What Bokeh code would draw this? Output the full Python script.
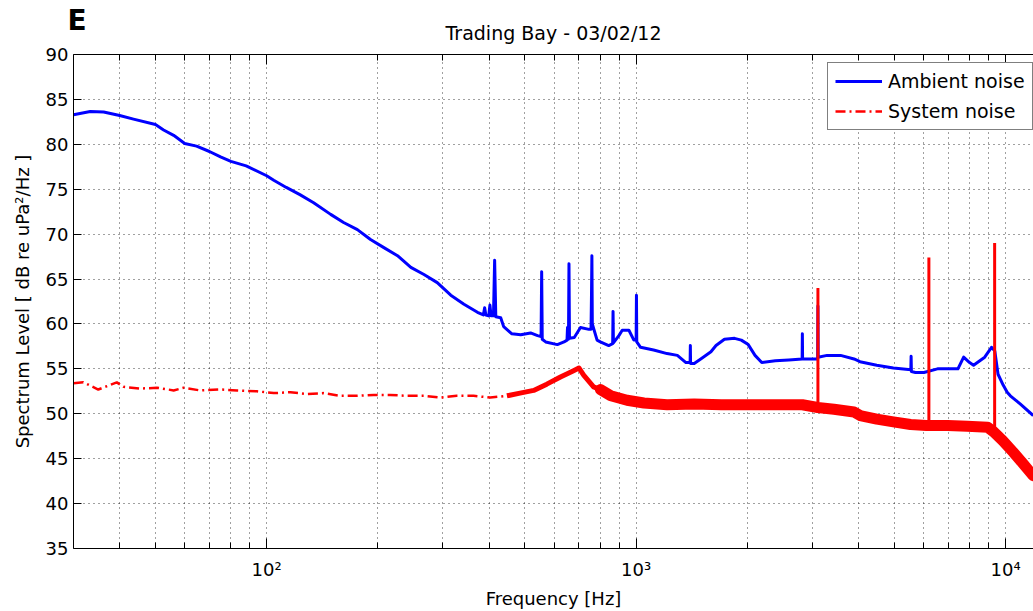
import numpy as np
from bokeh.plotting import figure
from bokeh.models import FixedTicker, LogAxis, Legend, LegendItem, Title
from bokeh.embed import file_html
from bokeh.resources import INLINE

# ---------------- data ----------------
title_text = "Trading Bay - 03/02/12"
panel_letter = "E"
x_label = "Frequency [Hz]"
y_label = "Spectrum Level [ dB re uPa\u00b2/Hz ]"
series_names = ["Ambient noise", "System noise"]

x_major_ticks = [100, 1000, 10000]
x_major_labels = ["10\u00b2", "10\u00b3", "10\u2074"]
x_minor_ticks = [40, 50, 60, 70, 80, 90,
                 200, 300, 400, 500, 600, 700, 800, 900,
                 2000, 3000, 4000, 5000, 6000, 7000, 8000, 9000]
y_ticks = [35, 40, 45, 50, 55, 60, 65, 70, 75, 80, 85, 90]

# Ambient noise (blue), spikes included
amb_freq = [30, 33.3, 36.2, 40, 43.6, 50, 52.6, 56, 60, 64.6, 70, 75, 80, 88,
            100, 104.5, 113, 123, 134, 149, 161.5, 176, 191, 207.6, 226, 245.6,
            266.5, 289.5, 315, 342, 372, 386, 389, 392, 399, 402, 405, 411, 414,
            417, 430, 438, 461, 487, 518, 541, 553, 555, 557, 569, 612, 638, 650,
            652, 654, 656, 658, 660, 680, 707, 745, 755, 757, 759, 761, 784, 800,
            843, 864, 866, 868, 898, 917, 956, 986, 1000, 1002, 1004, 1028, 1115,
            1213, 1293, 1364, 1400, 1402, 1404, 1436, 1496, 1594, 1645, 1734,
            1847, 1926, 2011, 2098, 2188, 2381, 2590, 2814, 2818, 2822, 3063,
            3100, 3105, 3110, 3286, 3576, 3888, 4036, 4480, 4970, 5540, 5550,
            5560, 5700, 6010, 6540, 6970, 7430, 7700, 7990, 8190, 8780, 9160,
            9350, 9540, 9850, 10100, 10300, 10950, 11880]
amb_level = [83.3, 83.65, 83.6, 83.2, 82.8, 82.2, 81.6, 81.0, 80.1, 79.8, 79.2,
             78.6, 78.1, 77.6, 76.5, 76.0, 75.2, 74.4, 73.5, 72.2, 71.3, 70.5,
             69.4, 68.5, 67.6, 66.3, 65.5, 64.6, 63.2, 62.2, 61.3, 61.0, 61.8,
             61.0, 60.9, 62.1, 60.9, 60.9, 67.1, 60.8, 60.7, 59.7, 58.9, 58.8,
             59.0, 58.7, 58.6, 65.8, 58.3, 58.0, 57.7, 58.0, 58.2, 59.6, 58.3,
             58.3, 66.7, 58.4, 58.5, 59.6, 59.4, 59.4, 63.0, 67.6, 60.0, 58.2,
             58.0, 57.6, 57.8, 61.4, 57.9, 58.7, 59.3, 59.3, 58.2, 58.2, 63.2,
             58.0, 57.4, 57.1, 56.7, 56.5, 55.7, 55.7, 57.6, 55.6, 55.6, 56.1,
             56.9, 57.6, 58.3, 58.4, 58.2, 57.7, 56.5, 55.7, 55.9, 56.0, 56.1,
             58.9, 56.1, 56.1, 56.1, 62.0, 56.3, 56.5, 56.5, 56.1, 55.8, 55.4,
             55.1, 54.9, 56.4, 54.7, 54.6, 54.6, 55.0, 55.0, 55.0, 56.3, 55.7,
             55.4, 56.3, 57.4, 57.0, 54.4, 53.2, 52.4, 52.0, 51.1, 49.8]

# System noise (red) (centre of the noisy band)
sys_freq = [30, 31.9, 35, 39.3, 41, 45.5, 50.5, 56, 59.6, 66, 75, 83.1, 94.1,
            104.5, 116, 128.6, 142.6, 158, 175.6, 194.7, 216, 239.6, 266, 295,
            327, 363, 403, 447, 485, 528, 573, 624, 677, 700, 721, 767, 800, 854,
            945, 1050, 1213, 1436, 1700, 2011, 2381, 2818, 3100, 3431, 3888,
            4040, 4480, 4970, 5530, 6100, 6970, 7870, 8940, 9280, 9830, 10500,
            11180, 11880]
sys_level = [53.4, 53.5, 52.7, 53.5, 53.0, 52.8, 52.9, 52.6, 52.9, 52.6, 52.7,
             52.6, 52.5, 52.3, 52.4, 52.2, 52.3, 52.0, 52.0, 52.1, 52.1, 52.0,
             52.0, 51.8, 52.0, 52.0, 51.8, 52.0, 52.3, 52.6, 53.3, 54.1, 54.8,
             55.1, 54.3, 53.0, 52.7, 52.0, 51.5, 51.2, 51.0, 51.1, 51.0, 51.0,
             51.0, 51.0, 50.7, 50.5, 50.2, 49.8, 49.4, 49.1, 48.8, 48.7, 48.7,
             48.6, 48.5, 48.0, 47.0, 45.7, 44.4, 43.1]
sys_spike_freq = [3105, 6200, 9340]
sys_spike_base = [50.7, 48.7, 48.0]
sys_spike_top = [64.0, 67.4, 69.0]

# ---------------- figure ----------------
FONT = "DejaVu Sans"
BLUE = "#0000ff"
RED = "#ff0000"

p = figure(width=1033, height=611, x_axis_type="log",
           x_range=(30, 11900), y_range=(35, 90),
           output_backend="svg", toolbar_location=None,
           min_border_left=73, min_border_right=0,
           min_border_top=54, min_border_bottom=63)
p.outline_line_color = None
p.background_fill_color = "white"
p.border_fill_color = "white"

# outermost title: panel letter (negative standoff lets it overlap the title row)
p.title.text = panel_letter
p.title.align = "left"
p.title.offset = -6
p.title.text_font = FONT
p.title.text_font_size = "28px"
p.title.text_font_style = "bold"
p.title.text_color = "black"
p.title.standoff = -34

xticker = FixedTicker(ticks=x_major_ticks, minor_ticks=x_minor_ticks)
yticker = FixedTicker(ticks=y_ticks)

xa = p.xaxis[0]
xa.ticker = xticker
xa.major_label_overrides = {t: s for t, s in zip(x_major_ticks, x_major_labels)}
ya = p.yaxis[0]
ya.ticker = yticker

for ax in (xa, ya):
    ax.axis_line_color = "black"
    ax.axis_line_width = 1
    ax.major_tick_line_color = "black"
    ax.minor_tick_line_color = "black"
    ax.major_tick_out = 0
    ax.minor_tick_out = 0
    ax.major_label_text_font = FONT
    ax.major_label_text_font_size = "18px"
    ax.major_label_text_color = "black"
    ax.axis_label_text_font = FONT
    ax.axis_label_text_font_size = "18px"
    ax.axis_label_text_font_style = "normal"
    ax.axis_label_text_color = "black"

xa.major_tick_in = 10
xa.minor_tick_in = 6
xa.major_label_standoff = 10
xa.axis_label = x_label
xa.axis_label_standoff = 5

ya.major_tick_in = 8
ya.minor_tick_line_color = None
ya.major_label_standoff = 5
ya.axis_label = y_label
ya.axis_label_standoff = 10

# top frame edge with inward ticks
top_axis = LogAxis(ticker=xticker, major_label_text_font_size="1px",
                   major_label_text_color=None,
                   major_label_standoff=0, major_tick_in=10, major_tick_out=0,
                   minor_tick_in=6, minor_tick_out=0,
                   axis_line_color="black", major_tick_line_color="black",
                   minor_tick_line_color="black")
p.add_layout(top_axis, "above")

# small blank spacer row between the frame and the title
p.add_layout(Title(text=" ", text_font=FONT, text_font_size="2px",
                   standoff=7), "above")

# chart title, between the spacer and the panel letter
p.add_layout(Title(text=title_text, align="center", text_font=FONT,
                   text_font_size="19px", text_font_style="normal",
                   text_color="black", standoff=0), "above")

# grid
p.xgrid.ticker = xticker
p.xgrid.grid_line_color = "black"
p.xgrid.grid_line_alpha = 0.75
p.xgrid.grid_line_dash = "1 4"
p.xgrid.minor_grid_line_color = "black"
p.xgrid.minor_grid_line_alpha = 0.75
p.xgrid.minor_grid_line_dash = "1 4"
p.ygrid.ticker = yticker
p.ygrid.grid_line_color = "black"
p.ygrid.grid_line_alpha = 0.75
p.ygrid.grid_line_dash = "1 4"

# ---------------- series ----------------
r_amb = p.line(amb_freq, amb_level, line_color=BLUE, line_width=3,
               line_join="round")

sf = np.array(sys_freq, dtype=float)
sl = np.array(sys_level, dtype=float)
lo = sf <= 530
mid = (sf >= 447) & (sf <= 854)
hi = sf >= 800

r_sys = p.line(sf[lo], sl[lo], line_color=RED, line_width=2.5,
               line_dash="10 4 2 4")
p.line(sf[mid], sl[mid], line_color=RED, line_width=5, line_join="round")
p.line(sf[hi], sl[hi], line_color=RED, line_width=11, line_join="round",
       line_cap="round")
p.segment(x0=sys_spike_freq, y0=sys_spike_base, x1=sys_spike_freq,
          y1=sys_spike_top, line_color=RED, line_width=3)

legend = Legend(items=[LegendItem(label=series_names[0], renderers=[r_amb]),
                       LegendItem(label=series_names[1], renderers=[r_sys])],
                location=(754, 418), margin=0, padding=7, spacing=8,
                glyph_width=47, glyph_height=20, label_standoff=6,
                label_height=20,
                label_text_font=FONT, label_text_font_size="19px",
                label_text_color="black",
                border_line_color="black", border_line_width=1,
                background_fill_color="white", background_fill_alpha=1.0)
p.add_layout(legend)

open("out.html", "w").write(file_html(p, INLINE))
